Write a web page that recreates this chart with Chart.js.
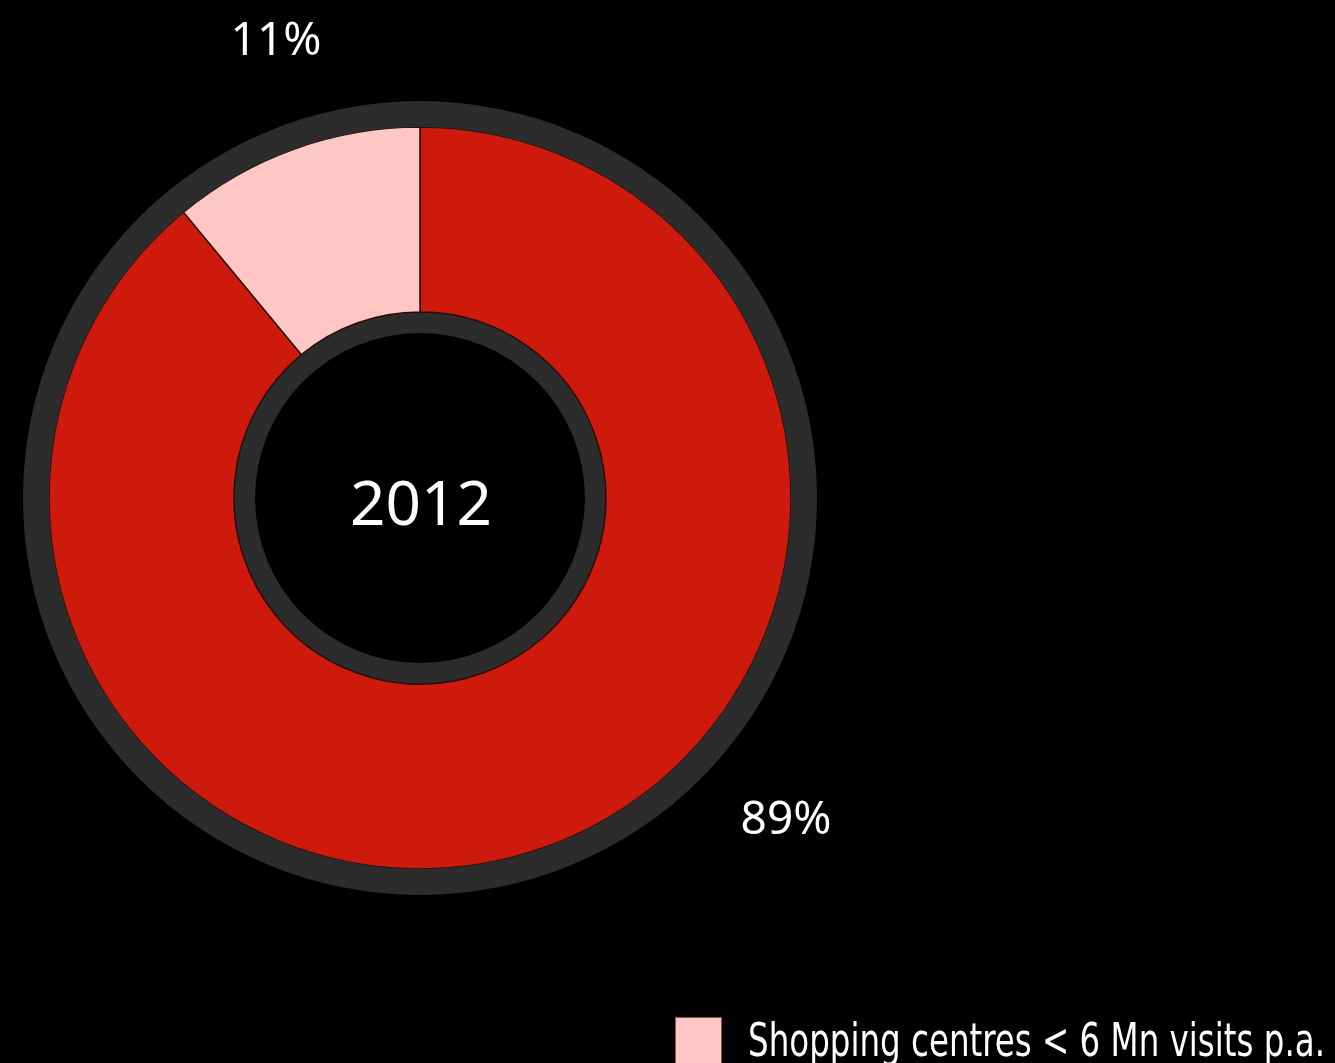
<!DOCTYPE html>
<html>
<head>
<meta charset="utf-8">
<title>2012</title>
<script src="https://cdn.jsdelivr.net/npm/chart.js@4.4.0/dist/chart.umd.min.js"></script>
<style>
  html, body { margin: 0; padding: 0; background: #000; overflow: hidden; }
  .chart-wrap { position: relative; width: 1335px; height: 1063px; }
</style>
</head>
<body>
<div class="chart-wrap"><canvas id="shareChart" width="1335" height="1063"></canvas></div>
<script>
const categories = ['Shopping centres > 6 Mn visits p.a.', 'Shopping centres < 6 Mn visits p.a.'];
const shares = [89, 11];
const sliceColors = ['#cd1a0c', '#ffc7c3'];
const legendOrder = [1, 0];
const yearLabel = '2012';
// single-value rings for the grey rim and hub
const rimValue = [1];

const RIM = '#2c2c2c';

// year in the hole, percentages beside the ring, legend under the chart
const annotations = {
  id: 'annotations',
  afterDraw(chart, args, opts) {
    const {ctx} = chart;
    const arcs = chart.getDatasetMeta(1).data;
    const cx = arcs[0].x, cy = arcs[0].y;
    ctx.save();
    ctx.fillStyle = '#fff';
    ctx.textAlign = 'center';
    ctx.textBaseline = 'alphabetic';

    ctx.font = '62px "Noto Sans", "Open Sans", sans-serif';
    ctx.fillText(yearLabel, cx + opts.yearOffset[0], cy + opts.yearOffset[1]);

    ctx.font = '46px "Noto Sans", "Open Sans", sans-serif';
    shares.forEach((v, i) => {
      const [dx, dy] = opts.valueOffsets[i];
      ctx.fillText(v + '%', cx + dx, cy + dy);
    });

    // legend, one row per category; text squeezed to a narrow face
    const lg = opts.legend;
    ctx.textAlign = 'left';
    ctx.font = lg.font;
    legendOrder.forEach((idx, row) => {
      const y = lg.y + row * lg.rowGap;
      ctx.fillStyle = sliceColors[idx];
      ctx.fillRect(lg.x, y, lg.box, lg.box);
      ctx.strokeStyle = 'rgba(110,50,50,0.8)';
      ctx.lineWidth = 1;
      ctx.strokeRect(lg.x + 0.5, y + 0.5, lg.box - 1, lg.box - 1);

      const tx = lg.x + lg.box + lg.gap;
      const w = ctx.measureText(categories[1]).width;
      const sx = lg.textWidth / w;
      ctx.save();
      ctx.translate(tx, y + lg.baseline);
      ctx.scale(sx, 1);
      ctx.fillStyle = '#fff';
      ctx.fillText(categories[idx], 0, 0);
      ctx.restore();
    });
    ctx.restore();
  }
};

new Chart(document.getElementById('shareChart'), {
  type: 'doughnut',
  data: {
    labels: categories,
    datasets: [
      {label: 'rim', data: rimValue, backgroundColor: RIM, borderWidth: 0, weight: 26},
      {
        label: yearLabel,
        data: shares,
        backgroundColor: sliceColors,
        borderColor: '#2a0d0a',
        borderWidth: 1.5,
        weight: 185
      },
      {label: 'hub', data: rimValue, backgroundColor: RIM, borderWidth: 0, weight: 21}
    ]
  },
  options: {
    responsive: false,
    devicePixelRatio: 1,
    animation: false,
    radius: 397,
    cutout: '41.56%',
    rotation: 0,
    layout: {padding: {left: 0, right: 495, top: 0, bottom: 67}},
    plugins: {
      legend: {display: false},
      tooltip: {enabled: false},
      annotations: {
        yearOffset: [1, 27],
        valueOffsets: [[366, 336], [-144, -443]],
        legend: {
          x: 675, y: 1017, box: 47, gap: 26, baseline: 39, rowGap: 70, textWidth: 577,
          font: '46px "DejaVu Sans Condensed", "Noto Sans", sans-serif'
        }
      }
    }
  },
  plugins: [annotations]
});
</script>
</body>
</html>
